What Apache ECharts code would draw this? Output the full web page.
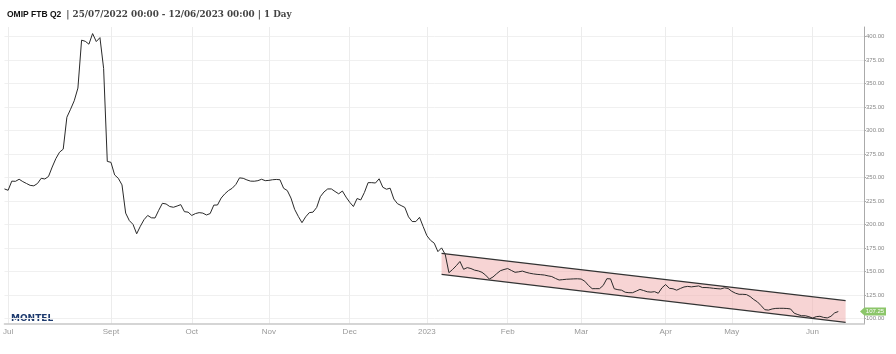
<!DOCTYPE html>
<html>
<head>
<meta charset="utf-8">
<script src="https://cdn.jsdelivr.net/npm/echarts@6/dist/echarts.min.js"></script>
<style>html,body{margin:0;padding:0;background:#fff}#c{width:896px;height:354px}</style>
</head>
<body>
<div id="c"></div>
<script>
// ---- data ----
const titleMain = 'OMIP FTB Q2';
const titleSub = '| 25/07/2022 00:00 - 12/06/2023 00:00 | 1 Day';
const firstTradingDay = '2022-07-22';
const holidays = ['2022-12-26', '2023-04-07', '2023-04-10', '2023-05-01'];
const categoryCount = 235;
const monthLabelDates = ['2022-07-25','2022-09-01','2022-10-03','2022-11-01','2022-12-01','2023-01-02','2023-02-01','2023-03-01','2023-04-03','2023-05-02','2023-06-01'];
const monthLabelTexts = ['Jul','Sept','Oct','Nov','Dec','2023','Feb','Mar','Apr','May','Jun'];
const yTickValues = [100,125,150,175,200,225,250,275,300,325,350,375,400];

const prices2022 = [
237.7,236.3,246.0,245.8,248.0,245.5,243.5,241.5,241.0,243.5,
249.0,248.3,251.0,261.0,270.0,276.8,280.0,314.0,322.5,331.5,
345.0,396.0,394.8,391.7,403.0,394.5,398.7,366.0,267.0,266.0,
252.6,249.0,242.0,212.0,204.0,200.0,190.0,198.0,205.0,209.5,
207.0,206.8,215.0,222.4,221.7,219.0,218.2,219.5,221.0,213.5,
213.0,209.5,211.5,212.5,212.0,210.0,211.5,220.5,220.6,228.0,
232.5,236.0,238.4,242.5,249.5,249.0,247.3,246.0,245.9,246.5,
248.0,246.5,246.8,247.5,247.8,247.5,238.4,236.0,228.0,216.0,
208.5,201.8,208.0,212.5,213.0,218.0,229.5,234.5,237.7,237.7,
235.0,232.5,235.5,229.0,223.5,219.0,227.5,226.0,234.0,244.4,
244.4,244.0,248.5,239.5,237.4,238.5,227.0,222.0,220.0,218.0,
208.0,203.0,203.0,207.5,197.6
];
const prices2023 = [
188.0,183.0,180.0,171.0,175.0,168.0,148.6,152.0,156.0,160.5,
152.2,154.0,153.0,151.3,150.5,149.0,146.0,141.8,144.0,147.5,
150.7,152.0,153.0,151.0,149.0,149.5,150.3,149.0,148.0,147.3,
146.8,146.5,146.1,145.2,144.5,142.5,140.8,141.2,141.6,141.8,
142.0,142.1,141.8,139.5,135.0,131.6,131.6,131.6,135.0,142.2,
142.0,131.5,130.5,130.0,127.8,127.3,127.3,129.0,130.8,129.6,
128.3,127.9,128.4,126.7,132.5,136.0,132.0,131.5,130.0,131.8,
133.4,134.0,133.5,134.0,134.5,132.8,132.8,132.5,132.0,131.6,
131.3,132.5,131.8,128.8,126.8,125.6,125.6,125.3,123.2,120.0,
117.5,113.5,109.2,108.8,110.0,110.6,110.7,110.7,110.5,110.0,
105.5,104.0,102.8,102.8,101.8,100.3,101.8,102.2,101.0,100.5,
102.2,105.8,107.25
];
// trend channel (start index, end index, upper/lower values)
const channelX = [119, 229];
const channelUpper = [169.2, 118.8];
const channelLower = [146.9, 95.8];

// ---- build ----
function tradingDays(start, count, skip) {
  const out = [];
  const d = new Date(start + 'T12:00:00Z');
  while (out.length < count) {
    const wd = d.getUTCDay();
    const s = d.toISOString().slice(0, 10);
    if (wd !== 0 && wd !== 6 && skip.indexOf(s) < 0) out.push(s);
    d.setUTCDate(d.getUTCDate() + 1);
  }
  return out;
}
const categories = tradingDays(firstTradingDay, categoryCount, holidays);
const prices = prices2022.concat(prices2023);
const lastValue = prices[prices.length - 1];
const showMonth = (idx, val) => monthLabelDates.indexOf(val) >= 0;

const chart = echarts.init(document.getElementById('c'), null, {renderer: 'canvas'});
chart.setOption({
  animation: false,
  backgroundColor: '#ffffff',
  title: {
    left: 7, top: 6, padding: 0,
    text: '{a|' + titleMain + '} {b|' + titleSub + '}',
    textStyle: {
      rich: {
        a: {fontFamily: 'Liberation Sans', fontWeight: 'bold', fontSize: 8.5, color: '#111'},
        b: {fontFamily: 'DejaVu Serif', fontSize: 8.8, color: '#444'}
      }
    }
  },
  graphic: [{
    type: 'text', left: 11, top: 314,
    style: {text: 'MONTEL', font: 'bold 9px "DejaVu Sans"', fill: '#1d3a6e'}
  }],
  grid: {left: 3, right: 32, top: 27, bottom: 30},
  xAxis: {
    type: 'category',
    data: categories,
    boundaryGap: false,
    axisLine: {lineStyle: {color: '#c8c8c8', width: 1.5}},
    axisTick: {show: false},
    axisLabel: {
      interval: showMonth,
      formatter: v => monthLabelTexts[monthLabelDates.indexOf(v)],
      color: '#999', fontSize: 8, fontFamily: 'Liberation Sans', margin: 4
    },
    splitLine: {show: true, interval: showMonth, lineStyle: {color: '#ececec', width: 1}}
  },
  yAxis: {
    type: 'value',
    position: 'right',
    min: 94, max: 410,
    axisLine: {show: true, lineStyle: {color: '#aaa', width: 1}},
    axisTick: {show: true, length: 2, lineStyle: {color: '#aaa'}, customValues: yTickValues},
    axisLabel: {
      customValues: yTickValues,
      formatter: v => v.toFixed(2),
      color: '#888', fontSize: 6, fontFamily: 'Liberation Sans', margin: 2
    },
    splitLine: {show: true, lineStyle: {color: '#f0f0f0', width: 1}}
  },
  series: [
    {
      type: 'custom',
      data: [[channelX[0], channelUpper[0], channelLower[0], channelX[1], channelUpper[1], channelLower[1]]],
      encode: {x: [0, 3], y: [1, 2, 4, 5]},
      z: 2,
      renderItem: function (params, api) {
        const ul = api.coord([channelX[0], channelUpper[0]]);
        const ur = api.coord([channelX[1], channelUpper[1]]);
        const ll = api.coord([channelX[0], channelLower[0]]);
        const lr = api.coord([channelX[1], channelLower[1]]);
        return {
          type: 'group',
          children: [
            {type: 'polygon', shape: {points: [ul, ur, lr, ll]}, style: {fill: 'rgba(240,170,170,0.5)', stroke: null}},
            {type: 'line', shape: {x1: ul[0], y1: ul[1], x2: ur[0], y2: ur[1]}, style: {stroke: '#333', lineWidth: 1.3}},
            {type: 'line', shape: {x1: ll[0], y1: ll[1], x2: lr[0], y2: lr[1]}, style: {stroke: '#333', lineWidth: 1.3}}
          ]
        };
      }
    },
    {
      type: 'line',
      data: prices,
      showSymbol: false,
      symbol: 'none',
      z: 3,
      lineStyle: {color: '#2a2a2a', width: 1},
      markPoint: {
        symbol: 'path://M0,5 L5,0 L30,0 L30,10 L5,10 Z',
        symbolSize: [26, 8],
        symbolKeepAspect: false,
        symbolOffset: [9, 0],
        itemStyle: {color: '#8cc66a'},
        label: {show: true, formatter: () => lastValue.toFixed(2), color: '#fff', fontSize: 6, fontFamily: 'Liberation Sans', offset: [2, 0]},
        data: [{coord: [categories[categoryCount - 1], lastValue]}]
      }
    }
  ]
});
</script>
</body>
</html>
